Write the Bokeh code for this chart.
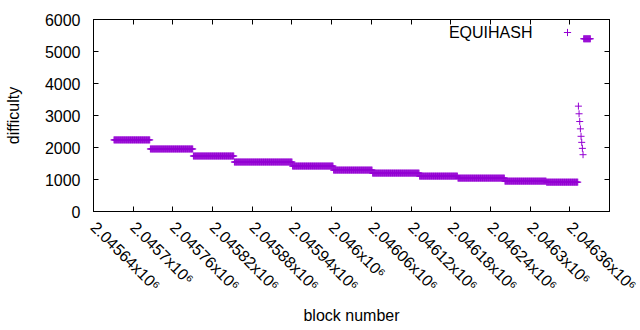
import numpy as np
from bokeh.plotting import figure
from bokeh.models import Range1d, FixedTicker, LinearAxis, Legend, LegendItem, Label, ColumnDataSource
from bokeh.core.properties import value
from bokeh.embed import file_html
from bokeh.resources import INLINE

# ---- data ----
# difficulty was constant over runs of blocks
seg_start = [2045671, 2045726, 2045791, 2045853, 2045941, 2046003,
             2046062, 2046133, 2046191, 2046262, 2046325, 2046381]
seg_end = [2045725, 2045790, 2045852, 2045940, 2046002, 2046061,
           2046132, 2046190, 2046261, 2046324, 2046372, 2046391]
seg_difficulty = [2237, 1954, 1734, 1546, 1420, 1294,
                  1200, 1106, 1043, 949, 917, 5397]

# individual blocks near the end
spike_blocks = [2046373, 2046374, 2046375, 2046376, 2046377, 2046378, 2046379, 2046380]
spike_difficulty = [3292, 3054, 2812, 2583, 2350, 2161, 1973, 1775]

x_ticks = [2045640, 2045700, 2045760, 2045820, 2045880, 2045940, 2046000,
           2046060, 2046120, 2046180, 2046240, 2046300, 2046360, 2046420]
x_tick_labels = ["2.04564x10⁶", "2.0457x10⁶", "2.04576x10⁶", "2.04582x10⁶",
                 "2.04588x10⁶", "2.04594x10⁶", "2.046x10⁶", "2.04606x10⁶",
                 "2.04612x10⁶", "2.04618x10⁶", "2.04624x10⁶", "2.0463x10⁶",
                 "2.04636x10⁶", "2.04642x10⁶"]
y_ticks = [0, 1000, 2000, 3000, 4000, 5000, 6000]

series_name = "EQUIHASH"
x_label = "block number"
y_label = "difficulty"

# ---- build per-block table ----
blocks = []
diffs = []
for s, e, d in zip(seg_start, seg_end, seg_difficulty):
    for b in range(s, e + 1):
        blocks.append(b)
        diffs.append(d)
blocks += spike_blocks
diffs += spike_difficulty
source = ColumnDataSource(dict(block=blocks, difficulty=diffs))

FONT = "Liberation Sans"
COLOR = "#9400D3"
LABEL_STANDOFF = 13
FRAME_W = 516

p = figure(frame_width=FRAME_W, frame_height=192,
           min_border_left=93, min_border_right=31,
           min_border_top=19, min_border_bottom=111,
           x_range=Range1d(x_ticks[0], x_ticks[-1]),
           y_range=Range1d(y_ticks[0], y_ticks[-1]),
           output_backend="svg", toolbar_location=None)
p.background_fill_color = "white"
p.border_fill_color = "white"
p.outline_line_color = "black"
p.outline_line_width = 1
p.xgrid.visible = False
p.ygrid.visible = False

r = p.scatter("block", "difficulty", source=source, marker="cross",
              size=7, line_color=COLOR, line_width=1)

# main axes (the last x tick sits on the right border; its label is
# drawn separately so it is clipped by the page edge, not shifted)
xa = p.xaxis[0]
xa.ticker = FixedTicker(ticks=x_ticks[:-1])
xa.major_label_overrides = {t: l for t, l in zip(x_ticks[:-1], x_tick_labels[:-1])}
xa.major_label_orientation = -np.pi / 4
ya = p.yaxis[0]
ya.ticker = FixedTicker(ticks=y_ticks)
for ax in (xa, ya):
    ax.major_tick_in = 5
    ax.major_tick_out = 0
    ax.minor_tick_line_color = None
    ax.axis_line_color = "black"
    ax.major_tick_line_color = "black"
    ax.major_label_text_font = FONT
    ax.major_label_text_font_size = "16px"
    ax.major_label_text_color = "black"
    ax.axis_label_text_font = FONT
    ax.axis_label_text_font_size = "16px"
    ax.axis_label_text_font_style = "normal"
    ax.axis_label_text_color = "black"
xa.axis_label = x_label
ya.axis_label = y_label
ya.major_label_standoff = 13
ya.axis_label_standoff = 20
xa.major_label_standoff = LABEL_STANDOFF
xa.axis_label_standoff = 4

p.add_layout(Label(x=FRAME_W, y=-LABEL_STANDOFF, x_units="screen", y_units="screen",
                   text=x_tick_labels[-1], angle=-np.pi / 4, level="overlay",
                   text_align="left", text_baseline="middle",
                   text_font=FONT, text_font_size="16px", text_color="black"))

# mirrored ticks on right and top (no labels)
for place, ticks in (("right", y_ticks), ("above", x_ticks)):
    mirror = LinearAxis(ticker=FixedTicker(ticks=ticks),
                        major_tick_in=5, major_tick_out=0,
                        minor_tick_line_color=None,
                        major_label_text_font_size="1px",
                        major_label_text_color=None,
                        major_label_standoff=0,
                        axis_line_color="black")
    p.add_layout(mirror, place)

# key: label on the left, sample on the right (gnuplot style)
legend = Legend(items=[LegendItem(label=value(" "), renderers=[r])],
                location=(465, 170), glyph_width=18, glyph_height=18,
                label_height=18, label_width=0, label_standoff=0,
                padding=0, margin=0, spacing=0,
                border_line_color=None, background_fill_alpha=0)
p.add_layout(legend)
p.add_layout(Label(x=439, y=179, x_units="screen", y_units="screen",
                   text=series_name, text_align="right", text_baseline="middle",
                   text_font=FONT, text_font_size="16px", text_color="black"))

open("out.html", "w").write(file_html(p, INLINE))
